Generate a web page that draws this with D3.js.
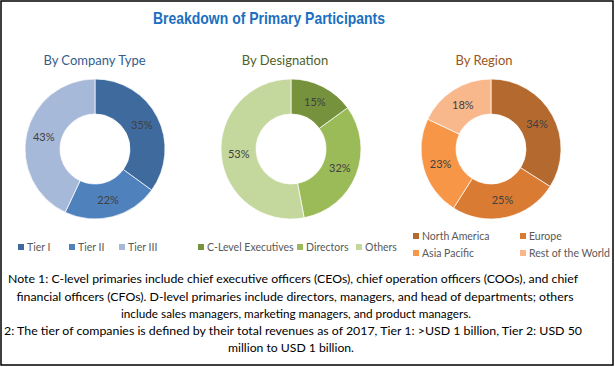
<!DOCTYPE html>
<html><head><meta charset="utf-8">
<script src="https://cdn.jsdelivr.net/npm/d3@7"></script>
<style>html,body{margin:0;padding:0;background:#fff;}svg{display:block;}</style>
</head><body>
<script>
// ---- data ----
const companyTypes = ["Tier I", "Tier II", "Tier III"];
const companyValues = [35, 22, 43];
const designations = ["C-Level Executives", "Directors", "Others"];
const designationValues = [15, 32, 53];
const regions = ["North America", "Europe", "Asia Pacific", "Rest of the World"];
const regionValues = [34, 25, 23, 18];
const chartTitle = "Breakdown of Primary Participants";
const subTitles = ["By Company Type", "By Designation", "By Region"];
const noteLines = [
  "Note 1: C-level primaries include chief executive officers (CEOs), chief operation officers (COOs), and chief",
  "financial officers (CFOs). D-level primaries include directors, managers, and head of departments; others",
  "include sales managers, marketing managers, and product managers.",
  "2: The tier of companies is defined by their total revenues as of 2017, Tier 1: >USD 1 billion, Tier 2: USD 50",
  "million to USD 1 billion."
];

// ---- layout / style ----
const W = 615, H = 367;
const svg = d3.select("body").append("svg").attr("width", W).attr("height", H);
svg.append("rect").attr("x", 0).attr("y", 0).attr("width", W).attr("height", H).attr("fill", "#fff");
svg.append("rect").attr("x", 1).attr("y", 1).attr("width", W - 3).attr("height", H - 3)
  .attr("fill", "none").attr("stroke", "#000").attr("stroke-width", 1.5);

const baseFont = "Lato, 'Open Sans', sans-serif";

svg.append("text").attr("x", 269).attr("y", 24).attr("text-anchor", "middle")
  .attr("font-family", "'Liberation Sans Narrow', 'Liberation Sans', Arial, sans-serif")
  .attr("font-weight", "bold").attr("font-size", 16.5).attr("fill", "#1b6fc0")
  .attr("textLength", 232).attr("lengthAdjust", "spacingAndGlyphs")
  .text(chartTitle);

const panels = [
  { labels: companyTypes, values: companyValues, cx: 95, cy: 149, titleX: 94.5, titleColor: "#345d8f",
    colors: ["#3f6a9e", "#4f81bd", "#a7b9d9"],
    legend: [[18, 247], [69, 247], [119, 247]] },
  { labels: designations, values: designationValues, cx: 291, cy: 149, titleX: 285, titleColor: "#4f6228",
    colors: ["#76923c", "#9bbb59", "#c4d79d"],
    legend: [[198, 247], [297, 247], [356, 247]] },
  { labels: regions, values: regionValues, cx: 491, cy: 149, titleX: 484, titleColor: "#9a5523",
    colors: ["#b46a2f", "#da7b33", "#f79646", "#f9b88c"],
    legend: [[413, 236], [520, 236], [413, 253], [520, 253]] }
];

const pie = d3.pie().sort(null).value(d => d);
const arc = d3.arc().innerRadius(35).outerRadius(70);
const labelArc = d3.arc().innerRadius(52.5).outerRadius(52.5);

panels.forEach((p, i) => {
  svg.append("text").attr("x", p.titleX).attr("y", 65).attr("text-anchor", "middle")
    .attr("font-family", baseFont).attr("font-size", 13).attr("fill", p.titleColor)
    .text(subTitles[i]);
  const color = d3.scaleOrdinal().domain(p.labels).range(p.colors);
  const g = svg.append("g").attr("transform", `translate(${p.cx},${p.cy})`);
  const arcs = pie(p.values);
  g.selectAll("path").data(arcs).join("path")
    .attr("d", arc).attr("fill", (d, j) => color(p.labels[j]))
    .attr("stroke", "#fff").attr("stroke-width", 0.7);
  g.selectAll("text").data(arcs).join("text")
    .attr("transform", d => `translate(${labelArc.centroid(d)})`)
    .attr("text-anchor", "middle").attr("dy", "0.35em")
    .attr("font-family", baseFont).attr("font-size", 11).attr("fill", "#404040")
    .text(d => d.value + "%");
  const lg = svg.append("g");
  p.labels.forEach((lab, j) => {
    const [lx, ly] = p.legend[j];
    lg.append("rect").attr("x", lx).attr("y", ly - 3).attr("width", 6).attr("height", 6)
      .attr("fill", color(lab));
    lg.append("text").attr("x", lx + 9).attr("y", ly).attr("dy", "0.35em")
      .attr("font-family", baseFont).attr("font-size", 10.5).attr("fill", "#595959")
      .text(lab);
  });
});

const noteY = [283, 301, 318, 335, 352];
const noteX = [293, 295, 296, 293, 291];
const noteLen = [570, 557, 350, 578, null];
noteLines.forEach((t, i) => {
  const txt = svg.append("text").attr("x", noteX[i]).attr("y", noteY[i]).attr("text-anchor", "middle")
    .attr("font-family", baseFont).attr("font-size", 12.2).attr("fill", "#000").text(t);
  if (noteLen[i]) txt.attr("textLength", noteLen[i]).attr("lengthAdjust", "spacingAndGlyphs");
});
</script>
</body></html>
